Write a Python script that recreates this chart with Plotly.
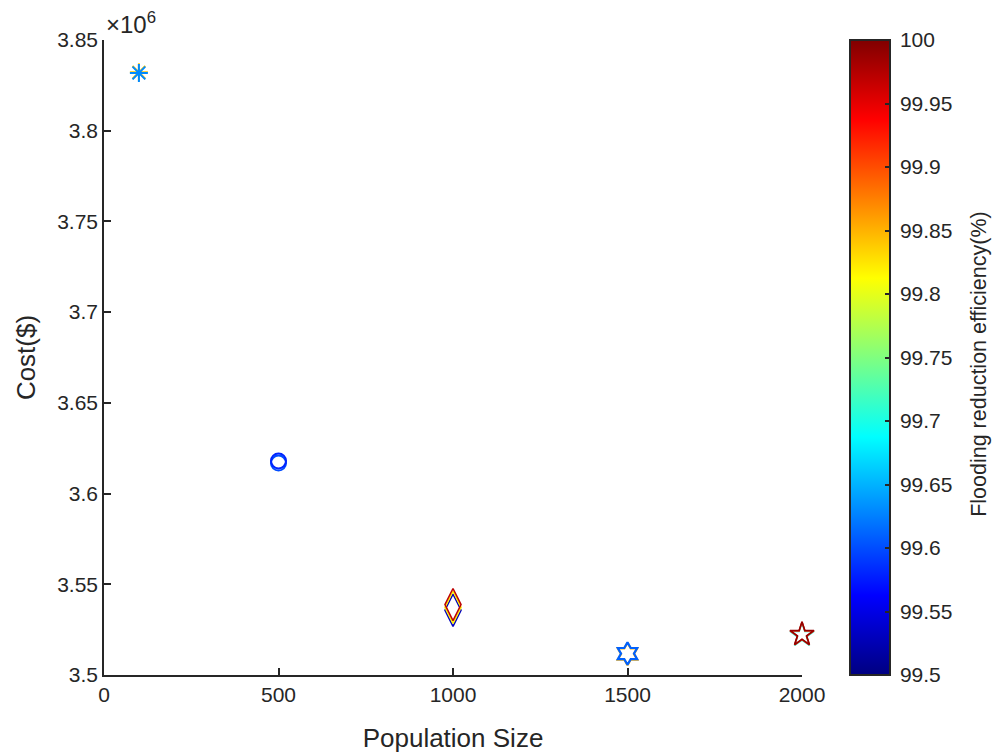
import plotly.graph_objects as go

# Population size of each run
population = [100, 100, 500, 500, 1000, 1000, 1000, 1500, 1500, 2000, 2000, 2000]
# Total cost of each solution ($)
cost = [3.8322e6, 3.8318e6, 3.6168e6, 3.6180e6, 3.5357e6, 3.5373e6, 3.5388e6,
        3.5116e6, 3.5118e6, 3.5219e6, 3.5222e6, 3.5224e6]
# Flooding reduction efficiency of each solution (%)
efficiency = [99.84, 99.63, 99.60, 99.58, 99.53, 99.82, 99.97, 99.85, 99.61, 99.70, 99.92, 99.99]
symbols = ["asterisk-open", "asterisk-open", "circle-open", "circle-open",
           "diamond-tall-open", "diamond-tall-open", "diamond-tall-open",
           "hexagram-open", "hexagram-open", "star-open", "star-open", "star-open"]
sizes = [15, 15, 15, 15, 23, 23, 23, 17, 17, 18, 18, 18]
stroke = [2, 2, 2, 2, 1.5, 1.5, 1.5, 2.2, 2.2, 1.6, 1.6, 1.6]

# Axis ticks
x_ticks = [0, 500, 1000, 1500, 2000]
y_ticks = [3.5e6, 3.55e6, 3.6e6, 3.65e6, 3.7e6, 3.75e6, 3.8e6, 3.85e6]
y_ticktext = ["3.5", "3.55", "3.6", "3.65", "3.7", "3.75", "3.8", "3.85"]
cb_ticks = [99.5, 99.55, 99.6, 99.65, 99.7, 99.75, 99.8, 99.85, 99.9, 99.95, 100]
cb_labels = ["99.5", "99.55", "99.6", "99.65", "99.7", "99.75", "99.8", "99.85", "99.9", "99.95", "100"]

jet = [[0.0, "rgb(0,0,128)"], [0.125, "rgb(0,0,255)"], [0.375, "rgb(0,255,255)"],
       [0.625, "rgb(255,255,0)"], [0.875, "rgb(255,0,0)"], [1.0, "rgb(128,0,0)"]]

ink = "#262626"
font = "Liberation Sans, Arial, sans-serif"
tick_size = 21
title_size = 26

fig = go.Figure(go.Scatter(
    x=population, y=cost, mode="markers", cliponaxis=False,
    marker=dict(
        symbol=symbols, size=sizes, color=efficiency, colorscale=jet,
        cmin=99.5, cmax=100, opacity=1, line=dict(width=stroke),
        showscale=True,
        colorbar=dict(
            x=(850 - 104) / 698, xanchor="left", xpad=0, ypad=0,
            y=0.5, yanchor="middle", len=1.0,
            thickness=40, outlinewidth=2, outlinecolor=ink,
            ticks="inside", ticklen=6, tickcolor=ink, tickwidth=1.5,
            tickvals=cb_ticks, ticktext=["\u2009" + t for t in cb_labels],
            tickfont=dict(family=font, size=tick_size, color=ink),
        ),
    ),
    showlegend=False,
))

fig.update_xaxes(
    range=[0, 2000], tickvals=x_ticks, ticks="inside", ticklen=7, tickwidth=1.5,
    tickcolor=ink, showline=True, linecolor=ink, linewidth=1.5, showgrid=False,
    zeroline=False, tickfont=dict(family=font, size=tick_size, color=ink),
    title=dict(text="Population Size", font=dict(family=font, size=title_size, color=ink),
               standoff=24),
)
fig.update_yaxes(
    range=[3.5e6, 3.85e6], tickvals=y_ticks, ticktext=y_ticktext, ticks="inside",
    ticklen=7, tickwidth=1.5, tickcolor=ink, showline=True, linecolor=ink,
    linewidth=1.5, showgrid=False, zeroline=False,
    tickfont=dict(family=font, size=tick_size, color=ink),
    title=dict(text="Cost($)", font=dict(family=font, size=title_size, color=ink),
               standoff=14),
)

# Exponent of the cost axis
fig.add_annotation(
    xref="paper", yref="paper", x=0.0, y=1.0, xanchor="left", yanchor="bottom",
    text="×10<sup>6</sup>", showarrow=False,
    font=dict(family=font, size=24, color=ink),
)

# Colour bar title, set vertically to the right of its labels
fig.add_annotation(
    xref="paper", yref="paper", x=(979 - 104) / 698, y=0.49,
    xanchor="center", yanchor="middle", textangle=-90,
    text="Flooding reduction efficiency(%)", showarrow=False,
    font=dict(family=font, size=21.5, color=ink),
)

fig.update_layout(
    width=993, height=754, paper_bgcolor="white", plot_bgcolor="white",
    margin=dict(l=104, r=191, t=40, b=79, autoexpand=False),
)

fig.write_html("out.html")
